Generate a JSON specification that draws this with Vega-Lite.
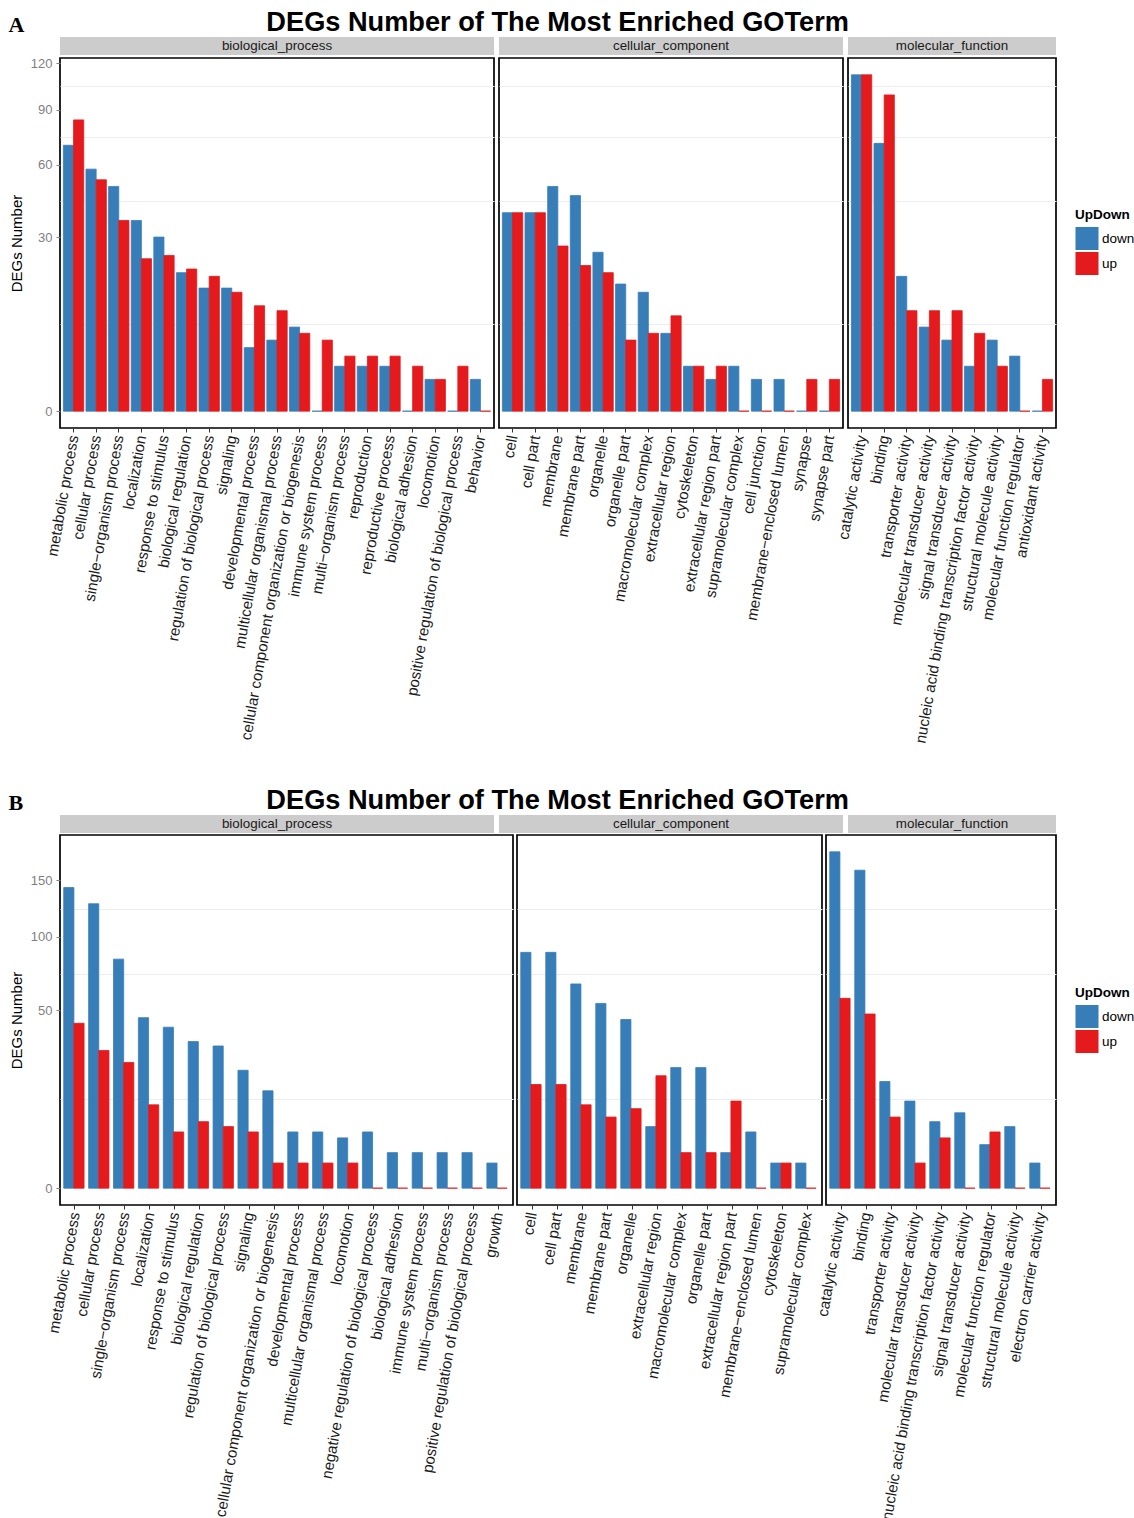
{
  "$schema": "https://vega.github.io/schema/vega-lite/v6.json",
  "background": "white",
  "padding": {"left": 8, "top": 8, "right": 0, "bottom": 0},
  "config": {
    "font": "Liberation Sans",
    "view": {"stroke": "#000000", "strokeWidth": 1.7},
    "axisX": {"labelAngle": -80, "labelAlign": "right", "labelBaseline": "middle", "labelFontSize": 15.2, "labelColor": "#1a1a1a", "labelLimit": 0, "labelOverlap": false, "labelPadding": 3, "tickColor": "#333333", "tickSize": 4, "domain": false, "grid": false, "title": null},
    "axisY": {"domain": false, "tickColor": "#7f7f7f", "tickSize": 4, "labelColor": "#7f7f7f", "labelFontSize": 13, "labelPadding": 4, "gridColor": "#EDEDED", "titleFontSize": 15, "titleFontWeight": "normal", "titleColor": "#000000", "titlePadding": 6},
    "legend": {"titleFontSize": 13.5, "titleFontWeight": "bold", "titleColor": "#000000", "labelFontSize": 13.5, "labelColor": "#000000", "symbolType": "square", "symbolSize": 530, "symbolStrokeWidth": 0, "rowPadding": 1, "labelOffset": 3}
  },
  "datasets": {
    "A": [
      {"panel": "biological_process", "term": "metabolic process", "UpDown": "down", "n": 70},
      {"panel": "biological_process", "term": "metabolic process", "UpDown": "up", "n": 84},
      {"panel": "biological_process", "term": "cellular process", "UpDown": "down", "n": 58},
      {"panel": "biological_process", "term": "cellular process", "UpDown": "up", "n": 53},
      {"panel": "biological_process", "term": "single−organism process", "UpDown": "down", "n": 50},
      {"panel": "biological_process", "term": "single−organism process", "UpDown": "up", "n": 36},
      {"panel": "biological_process", "term": "localization", "UpDown": "down", "n": 36},
      {"panel": "biological_process", "term": "localization", "UpDown": "up", "n": 23},
      {"panel": "biological_process", "term": "response to stimulus", "UpDown": "down", "n": 30},
      {"panel": "biological_process", "term": "response to stimulus", "UpDown": "up", "n": 24},
      {"panel": "biological_process", "term": "biological regulation", "UpDown": "down", "n": 19},
      {"panel": "biological_process", "term": "biological regulation", "UpDown": "up", "n": 20},
      {"panel": "biological_process", "term": "regulation of biological process", "UpDown": "down", "n": 15},
      {"panel": "biological_process", "term": "regulation of biological process", "UpDown": "up", "n": 18},
      {"panel": "biological_process", "term": "signaling", "UpDown": "down", "n": 15},
      {"panel": "biological_process", "term": "signaling", "UpDown": "up", "n": 14},
      {"panel": "biological_process", "term": "developmental process", "UpDown": "down", "n": 4},
      {"panel": "biological_process", "term": "developmental process", "UpDown": "up", "n": 11},
      {"panel": "biological_process", "term": "multicellular organismal process", "UpDown": "down", "n": 5},
      {"panel": "biological_process", "term": "multicellular organismal process", "UpDown": "up", "n": 10},
      {"panel": "biological_process", "term": "cellular component organization or biogenesis", "UpDown": "down", "n": 7},
      {"panel": "biological_process", "term": "cellular component organization or biogenesis", "UpDown": "up", "n": 6},
      {"panel": "biological_process", "term": "immune system process", "UpDown": "down", "n": 0},
      {"panel": "biological_process", "term": "immune system process", "UpDown": "up", "n": 5},
      {"panel": "biological_process", "term": "multi−organism process", "UpDown": "down", "n": 2},
      {"panel": "biological_process", "term": "multi−organism process", "UpDown": "up", "n": 3},
      {"panel": "biological_process", "term": "reproduction", "UpDown": "down", "n": 2},
      {"panel": "biological_process", "term": "reproduction", "UpDown": "up", "n": 3},
      {"panel": "biological_process", "term": "reproductive process", "UpDown": "down", "n": 2},
      {"panel": "biological_process", "term": "reproductive process", "UpDown": "up", "n": 3},
      {"panel": "biological_process", "term": "biological adhesion", "UpDown": "down", "n": 0},
      {"panel": "biological_process", "term": "biological adhesion", "UpDown": "up", "n": 2},
      {"panel": "biological_process", "term": "locomotion", "UpDown": "down", "n": 1},
      {"panel": "biological_process", "term": "locomotion", "UpDown": "up", "n": 1},
      {"panel": "biological_process", "term": "positive regulation of biological process", "UpDown": "down", "n": 0},
      {"panel": "biological_process", "term": "positive regulation of biological process", "UpDown": "up", "n": 2},
      {"panel": "biological_process", "term": "behavior", "UpDown": "down", "n": 1},
      {"panel": "biological_process", "term": "behavior", "UpDown": "up", "n": 0},
      {"panel": "cellular_component", "term": "cell", "UpDown": "down", "n": 39},
      {"panel": "cellular_component", "term": "cell", "UpDown": "up", "n": 39},
      {"panel": "cellular_component", "term": "cell part", "UpDown": "down", "n": 39},
      {"panel": "cellular_component", "term": "cell part", "UpDown": "up", "n": 39},
      {"panel": "cellular_component", "term": "membrane", "UpDown": "down", "n": 50},
      {"panel": "cellular_component", "term": "membrane", "UpDown": "up", "n": 27},
      {"panel": "cellular_component", "term": "membrane part", "UpDown": "down", "n": 46},
      {"panel": "cellular_component", "term": "membrane part", "UpDown": "up", "n": 21},
      {"panel": "cellular_component", "term": "organelle", "UpDown": "down", "n": 25},
      {"panel": "cellular_component", "term": "organelle", "UpDown": "up", "n": 19},
      {"panel": "cellular_component", "term": "organelle part", "UpDown": "down", "n": 16},
      {"panel": "cellular_component", "term": "organelle part", "UpDown": "up", "n": 5},
      {"panel": "cellular_component", "term": "macromolecular complex", "UpDown": "down", "n": 14},
      {"panel": "cellular_component", "term": "macromolecular complex", "UpDown": "up", "n": 6},
      {"panel": "cellular_component", "term": "extracellular region", "UpDown": "down", "n": 6},
      {"panel": "cellular_component", "term": "extracellular region", "UpDown": "up", "n": 9},
      {"panel": "cellular_component", "term": "cytoskeleton", "UpDown": "down", "n": 2},
      {"panel": "cellular_component", "term": "cytoskeleton", "UpDown": "up", "n": 2},
      {"panel": "cellular_component", "term": "extracellular region part", "UpDown": "down", "n": 1},
      {"panel": "cellular_component", "term": "extracellular region part", "UpDown": "up", "n": 2},
      {"panel": "cellular_component", "term": "supramolecular complex", "UpDown": "down", "n": 2},
      {"panel": "cellular_component", "term": "supramolecular complex", "UpDown": "up", "n": 0},
      {"panel": "cellular_component", "term": "cell junction", "UpDown": "down", "n": 1},
      {"panel": "cellular_component", "term": "cell junction", "UpDown": "up", "n": 0},
      {"panel": "cellular_component", "term": "membrane−enclosed lumen", "UpDown": "down", "n": 1},
      {"panel": "cellular_component", "term": "membrane−enclosed lumen", "UpDown": "up", "n": 0},
      {"panel": "cellular_component", "term": "synapse", "UpDown": "down", "n": 0},
      {"panel": "cellular_component", "term": "synapse", "UpDown": "up", "n": 1},
      {"panel": "cellular_component", "term": "synapse part", "UpDown": "down", "n": 0},
      {"panel": "cellular_component", "term": "synapse part", "UpDown": "up", "n": 1},
      {"panel": "molecular_function", "term": "catalytic activity", "UpDown": "down", "n": 112},
      {"panel": "molecular_function", "term": "catalytic activity", "UpDown": "up", "n": 112},
      {"panel": "molecular_function", "term": "binding", "UpDown": "down", "n": 71},
      {"panel": "molecular_function", "term": "binding", "UpDown": "up", "n": 99},
      {"panel": "molecular_function", "term": "transporter activity", "UpDown": "down", "n": 18},
      {"panel": "molecular_function", "term": "transporter activity", "UpDown": "up", "n": 10},
      {"panel": "molecular_function", "term": "molecular transducer activity", "UpDown": "down", "n": 7},
      {"panel": "molecular_function", "term": "molecular transducer activity", "UpDown": "up", "n": 10},
      {"panel": "molecular_function", "term": "signal transducer activity", "UpDown": "down", "n": 5},
      {"panel": "molecular_function", "term": "signal transducer activity", "UpDown": "up", "n": 10},
      {"panel": "molecular_function", "term": "nucleic acid binding transcription factor activity", "UpDown": "down", "n": 2},
      {"panel": "molecular_function", "term": "nucleic acid binding transcription factor activity", "UpDown": "up", "n": 6},
      {"panel": "molecular_function", "term": "structural molecule activity", "UpDown": "down", "n": 5},
      {"panel": "molecular_function", "term": "structural molecule activity", "UpDown": "up", "n": 2},
      {"panel": "molecular_function", "term": "molecular function regulator", "UpDown": "down", "n": 3},
      {"panel": "molecular_function", "term": "molecular function regulator", "UpDown": "up", "n": 0},
      {"panel": "molecular_function", "term": "antioxidant activity", "UpDown": "down", "n": 0},
      {"panel": "molecular_function", "term": "antioxidant activity", "UpDown": "up", "n": 1}
    ],
    "B": [
      {"panel": "biological_process", "term": "metabolic process", "UpDown": "down", "n": 143},
      {"panel": "biological_process", "term": "metabolic process", "UpDown": "up", "n": 43},
      {"panel": "biological_process", "term": "cellular process", "UpDown": "down", "n": 128},
      {"panel": "biological_process", "term": "cellular process", "UpDown": "up", "n": 30},
      {"panel": "biological_process", "term": "single−organism process", "UpDown": "down", "n": 83},
      {"panel": "biological_process", "term": "single−organism process", "UpDown": "up", "n": 25},
      {"panel": "biological_process", "term": "localization", "UpDown": "down", "n": 46},
      {"panel": "biological_process", "term": "localization", "UpDown": "up", "n": 11},
      {"panel": "biological_process", "term": "response to stimulus", "UpDown": "down", "n": 41},
      {"panel": "biological_process", "term": "response to stimulus", "UpDown": "up", "n": 5},
      {"panel": "biological_process", "term": "biological regulation", "UpDown": "down", "n": 34},
      {"panel": "biological_process", "term": "biological regulation", "UpDown": "up", "n": 7},
      {"panel": "biological_process", "term": "regulation of biological process", "UpDown": "down", "n": 32},
      {"panel": "biological_process", "term": "regulation of biological process", "UpDown": "up", "n": 6},
      {"panel": "biological_process", "term": "signaling", "UpDown": "down", "n": 22},
      {"panel": "biological_process", "term": "signaling", "UpDown": "up", "n": 5},
      {"panel": "biological_process", "term": "cellular component organization or biogenesis", "UpDown": "down", "n": 15},
      {"panel": "biological_process", "term": "cellular component organization or biogenesis", "UpDown": "up", "n": 1},
      {"panel": "biological_process", "term": "developmental process", "UpDown": "down", "n": 5},
      {"panel": "biological_process", "term": "developmental process", "UpDown": "up", "n": 1},
      {"panel": "biological_process", "term": "multicellular organismal process", "UpDown": "down", "n": 5},
      {"panel": "biological_process", "term": "multicellular organismal process", "UpDown": "up", "n": 1},
      {"panel": "biological_process", "term": "locomotion", "UpDown": "down", "n": 4},
      {"panel": "biological_process", "term": "locomotion", "UpDown": "up", "n": 1},
      {"panel": "biological_process", "term": "negative regulation of biological process", "UpDown": "down", "n": 5},
      {"panel": "biological_process", "term": "negative regulation of biological process", "UpDown": "up", "n": 0},
      {"panel": "biological_process", "term": "biological adhesion", "UpDown": "down", "n": 2},
      {"panel": "biological_process", "term": "biological adhesion", "UpDown": "up", "n": 0},
      {"panel": "biological_process", "term": "immune system process", "UpDown": "down", "n": 2},
      {"panel": "biological_process", "term": "immune system process", "UpDown": "up", "n": 0},
      {"panel": "biological_process", "term": "multi−organism process", "UpDown": "down", "n": 2},
      {"panel": "biological_process", "term": "multi−organism process", "UpDown": "up", "n": 0},
      {"panel": "biological_process", "term": "positive regulation of biological process", "UpDown": "down", "n": 2},
      {"panel": "biological_process", "term": "positive regulation of biological process", "UpDown": "up", "n": 0},
      {"panel": "biological_process", "term": "growth", "UpDown": "down", "n": 1},
      {"panel": "biological_process", "term": "growth", "UpDown": "up", "n": 0},
      {"panel": "cellular_component", "term": "cell", "UpDown": "down", "n": 88},
      {"panel": "cellular_component", "term": "cell", "UpDown": "up", "n": 17},
      {"panel": "cellular_component", "term": "cell part", "UpDown": "down", "n": 88},
      {"panel": "cellular_component", "term": "cell part", "UpDown": "up", "n": 17},
      {"panel": "cellular_component", "term": "membrane", "UpDown": "down", "n": 66},
      {"panel": "cellular_component", "term": "membrane", "UpDown": "up", "n": 11},
      {"panel": "cellular_component", "term": "membrane part", "UpDown": "down", "n": 54},
      {"panel": "cellular_component", "term": "membrane part", "UpDown": "up", "n": 8},
      {"panel": "cellular_component", "term": "organelle", "UpDown": "down", "n": 45},
      {"panel": "cellular_component", "term": "organelle", "UpDown": "up", "n": 10},
      {"panel": "cellular_component", "term": "extracellular region", "UpDown": "down", "n": 6},
      {"panel": "cellular_component", "term": "extracellular region", "UpDown": "up", "n": 20},
      {"panel": "cellular_component", "term": "macromolecular complex", "UpDown": "down", "n": 23},
      {"panel": "cellular_component", "term": "macromolecular complex", "UpDown": "up", "n": 2},
      {"panel": "cellular_component", "term": "organelle part", "UpDown": "down", "n": 23},
      {"panel": "cellular_component", "term": "organelle part", "UpDown": "up", "n": 2},
      {"panel": "cellular_component", "term": "extracellular region part", "UpDown": "down", "n": 2},
      {"panel": "cellular_component", "term": "extracellular region part", "UpDown": "up", "n": 12},
      {"panel": "cellular_component", "term": "membrane−enclosed lumen", "UpDown": "down", "n": 5},
      {"panel": "cellular_component", "term": "membrane−enclosed lumen", "UpDown": "up", "n": 0},
      {"panel": "cellular_component", "term": "cytoskeleton", "UpDown": "down", "n": 1},
      {"panel": "cellular_component", "term": "cytoskeleton", "UpDown": "up", "n": 1},
      {"panel": "cellular_component", "term": "supramolecular complex", "UpDown": "down", "n": 1},
      {"panel": "cellular_component", "term": "supramolecular complex", "UpDown": "up", "n": 0},
      {"panel": "molecular_function", "term": "catalytic activity", "UpDown": "down", "n": 179},
      {"panel": "molecular_function", "term": "catalytic activity", "UpDown": "up", "n": 57},
      {"panel": "molecular_function", "term": "binding", "UpDown": "down", "n": 160},
      {"panel": "molecular_function", "term": "binding", "UpDown": "up", "n": 48},
      {"panel": "molecular_function", "term": "transporter activity", "UpDown": "down", "n": 18},
      {"panel": "molecular_function", "term": "transporter activity", "UpDown": "up", "n": 8},
      {"panel": "molecular_function", "term": "molecular transducer activity", "UpDown": "down", "n": 12},
      {"panel": "molecular_function", "term": "molecular transducer activity", "UpDown": "up", "n": 1},
      {"panel": "molecular_function", "term": "nucleic acid binding transcription factor activity", "UpDown": "down", "n": 7},
      {"panel": "molecular_function", "term": "nucleic acid binding transcription factor activity", "UpDown": "up", "n": 4},
      {"panel": "molecular_function", "term": "signal transducer activity", "UpDown": "down", "n": 9},
      {"panel": "molecular_function", "term": "signal transducer activity", "UpDown": "up", "n": 0},
      {"panel": "molecular_function", "term": "molecular function regulator", "UpDown": "down", "n": 3},
      {"panel": "molecular_function", "term": "molecular function regulator", "UpDown": "up", "n": 5},
      {"panel": "molecular_function", "term": "structural molecule activity", "UpDown": "down", "n": 6},
      {"panel": "molecular_function", "term": "structural molecule activity", "UpDown": "up", "n": 0},
      {"panel": "molecular_function", "term": "electron carrier activity", "UpDown": "down", "n": 1},
      {"panel": "molecular_function", "term": "electron carrier activity", "UpDown": "up", "n": 0}
    ]
  },
  "resolve": {"scale": {"color": "independent", "stroke": "independent"}, "legend": {"color": "independent"}},
  "spacing": 41,
  "vconcat": [
    {
      "title": {"text": "A", "anchor": "start", "frame": "bounds", "font": "Liberation Serif", "fontSize": 22, "fontWeight": "bold", "color": "#000000", "offset": -28},
      "vconcat": [
        {
          "title": {"text": "DEGs Number of The Most Enriched GOTerm", "font": "Liberation Sans", "fontSize": 27.2, "fontWeight": "bold", "color": "#000000", "anchor": "middle", "frame": "bounds", "dx": 25, "offset": 0},
          "spacing": 1,
          "vconcat": [
            {
              "bounds": "flush", "spacing": 5,
              "hconcat": [
                {"width": 434, "height": 18, "view": {"fill": "#CCCCCC", "stroke": null}, "data": {"values": [{"t": "biological_process"}]}, "mark": {"type": "text", "fontSize": 13.4, "color": "#1a1a1a"},
                  "encoding": {"text": {"field": "t", "type": "nominal"},
                    "y": {"datum": 0.5, "type": "quantitative", "scale": {"domain": [0, 1]}, "axis": {"values": [0.5], "labelExpr": "'120'", "labelColor": "transparent", "tickColor": "transparent", "title": "D", "titleColor": "transparent", "grid": false}}}},
                {"width": 344, "height": 18, "view": {"fill": "#CCCCCC", "stroke": null}, "data": {"values": [{"t": "cellular_component"}]}, "mark": {"type": "text", "fontSize": 13.4, "color": "#1a1a1a"}, "encoding": {"text": {"field": "t", "type": "nominal"}}},
                {"width": 208, "height": 18, "view": {"fill": "#CCCCCC", "stroke": null}, "data": {"values": [{"t": "molecular_function"}]}, "mark": {"type": "text", "fontSize": 13.4, "color": "#1a1a1a"}, "encoding": {"text": {"field": "t", "type": "nominal"}}}
              ]
            },
            {
              "bounds": "flush", "spacing": 5,
              "hconcat": [
                {
                  "width": 434, "height": 370,
                  "data": {"name": "A"},
                  "transform": [{"filter": "datum.panel == 'biological_process'"}],
                  "mark": {"type": "bar", "strokeWidth": 0.8},
                  "encoding": {
                    "x": {"field": "term", "type": "nominal", "sort": null, "scale": {"paddingInner": 0.1, "paddingOuter": 0.15}},
                    "xOffset": {"field": "UpDown", "type": "nominal", "scale": {"domain": ["down", "up"], "paddingInner": 0, "paddingOuter": 0}},
                    "y": {"field": "n", "type": "quantitative", "scale": {"type": "sqrt", "domain": [-0.28, 123.48], "nice": false, "zero": false},
                      "axis": {"title": "DEGs Number", "values": [0, 7.5, 30, 43.71, 60, 74.24, 90, 104.46, 120], "labelExpr": "indexof([0,30,60,90,120], datum.value) >= 0 ? datum.label : ''", "tickOpacity": {"condition": {"test": "indexof([0,30,60,90,120], datum.value) >= 0", "value": 1}, "value": 0}, "gridOpacity": {"condition": {"test": "indexof([0,30,60,90,120], datum.value) >= 0", "value": 0}, "value": 1}}},
                    "y2": {"datum": 0},
                    "color": {"field": "UpDown", "type": "nominal", "scale": {"domain": ["down", "up"], "range": ["#377EB8", "#E41A1C"]}, "legend": {"title": "UpDown", "orient": "none", "legendX": 1015, "legendY": 171}},
                    "stroke": {"field": "UpDown", "type": "nominal", "scale": {"domain": ["down", "up"], "range": ["#377EB8", "#E41A1C"]}, "legend": null}
                  }
                },
                {
                  "width": 344, "height": 370,
                  "data": {"name": "A"},
                  "transform": [{"filter": "datum.panel == 'cellular_component'"}],
                  "mark": {"type": "bar", "strokeWidth": 0.8},
                  "encoding": {
                    "x": {"field": "term", "type": "nominal", "sort": null, "scale": {"paddingInner": 0.1, "paddingOuter": 0.15}},
                    "xOffset": {"field": "UpDown", "type": "nominal", "scale": {"domain": ["down", "up"], "paddingInner": 0, "paddingOuter": 0}},
                    "y": {"field": "n", "type": "quantitative", "scale": {"type": "sqrt", "domain": [-0.28, 123.48], "nice": false, "zero": false},
                      "axis": {"title": null, "labels": false, "ticks": false, "values": [0, 7.5, 30, 43.71, 60, 74.24, 90, 104.46, 120], "gridOpacity": {"condition": {"test": "indexof([0,30,60,90,120], datum.value) >= 0", "value": 0}, "value": 1}}},
                    "y2": {"datum": 0},
                    "color": {"field": "UpDown", "type": "nominal", "scale": {"domain": ["down", "up"], "range": ["#377EB8", "#E41A1C"]}, "legend": {"title": "UpDown", "orient": "none", "legendX": 1015, "legendY": 171}},
                    "stroke": {"field": "UpDown", "type": "nominal", "scale": {"domain": ["down", "up"], "range": ["#377EB8", "#E41A1C"]}, "legend": null}
                  }
                },
                {
                  "width": 208, "height": 370,
                  "data": {"name": "A"},
                  "transform": [{"filter": "datum.panel == 'molecular_function'"}],
                  "mark": {"type": "bar", "strokeWidth": 0.8},
                  "encoding": {
                    "x": {"field": "term", "type": "nominal", "sort": null, "scale": {"paddingInner": 0.1, "paddingOuter": 0.15}},
                    "xOffset": {"field": "UpDown", "type": "nominal", "scale": {"domain": ["down", "up"], "paddingInner": 0, "paddingOuter": 0}},
                    "y": {"field": "n", "type": "quantitative", "scale": {"type": "sqrt", "domain": [-0.28, 123.48], "nice": false, "zero": false},
                      "axis": {"title": null, "labels": false, "ticks": false, "values": [0, 7.5, 30, 43.71, 60, 74.24, 90, 104.46, 120], "gridOpacity": {"condition": {"test": "indexof([0,30,60,90,120], datum.value) >= 0", "value": 0}, "value": 1}}},
                    "y2": {"datum": 0},
                    "color": {"field": "UpDown", "type": "nominal", "scale": {"domain": ["down", "up"], "range": ["#377EB8", "#E41A1C"]}, "legend": {"title": "UpDown", "orient": "none", "legendX": 1015, "legendY": 171}},
                    "stroke": {"field": "UpDown", "type": "nominal", "scale": {"domain": ["down", "up"], "range": ["#377EB8", "#E41A1C"]}, "legend": null}
                  }
                }
              ]
            }
          ]
        }
      ]
    },
    {
      "title": {"text": "B", "anchor": "start", "frame": "bounds", "font": "Liberation Serif", "fontSize": 22, "fontWeight": "bold", "color": "#000000", "offset": -28},
      "vconcat": [
        {
          "title": {"text": "DEGs Number of The Most Enriched GOTerm", "font": "Liberation Sans", "fontSize": 27.2, "fontWeight": "bold", "color": "#000000", "anchor": "middle", "frame": "bounds", "dx": 25, "offset": 0},
          "spacing": 1,
          "vconcat": [
            {
              "bounds": "flush", "spacing": 5,
              "hconcat": [
                {"width": 434, "height": 18, "view": {"fill": "#CCCCCC", "stroke": null}, "data": {"values": [{"t": "biological_process"}]}, "mark": {"type": "text", "fontSize": 13.4, "color": "#1a1a1a"},
                  "encoding": {"text": {"field": "t", "type": "nominal"},
                    "y": {"datum": 0.5, "type": "quantitative", "scale": {"domain": [0, 1]}, "axis": {"values": [0.5], "labelExpr": "'150'", "labelColor": "transparent", "tickColor": "transparent", "title": "D", "titleColor": "transparent", "grid": false}}}},
                {"width": 344, "height": 18, "view": {"fill": "#CCCCCC", "stroke": null}, "data": {"values": [{"t": "cellular_component"}]}, "mark": {"type": "text", "fontSize": 13.4, "color": "#1a1a1a"}, "encoding": {"text": {"field": "t", "type": "nominal"}}},
                {"width": 208, "height": 18, "view": {"fill": "#CCCCCC", "stroke": null}, "data": {"values": [{"t": "molecular_function"}]}, "mark": {"type": "text", "fontSize": 13.4, "color": "#1a1a1a"}, "encoding": {"text": {"field": "t", "type": "nominal"}}}
              ]
            },
            {
              "bounds": "flush", "spacing": 4,
              "hconcat": [
                {
                  "width": 453, "height": 370,
                  "data": {"name": "B"},
                  "transform": [{"filter": "datum.panel == 'biological_process'"}],
                  "mark": {"type": "bar", "strokeWidth": 0.8},
                  "encoding": {
                    "x": {"field": "term", "type": "nominal", "sort": null, "scale": {"paddingInner": 0.1, "paddingOuter": 0.15}},
                    "xOffset": {"field": "UpDown", "type": "nominal", "scale": {"domain": ["down", "up"], "paddingInner": 0, "paddingOuter": 0}},
                    "y": {"field": "n", "type": "quantitative", "scale": {"type": "sqrt", "domain": [-0.4476, 197.35], "nice": false, "zero": false},
                      "axis": {"title": "DEGs Number", "values": [0, 12.5, 50, 72.86, 100, 123.74, 150], "labelExpr": "indexof([0,50,100,150], datum.value) >= 0 ? datum.label : ''", "tickOpacity": {"condition": {"test": "indexof([0,50,100,150], datum.value) >= 0", "value": 1}, "value": 0}, "gridOpacity": {"condition": {"test": "indexof([0,50,100,150], datum.value) >= 0", "value": 0}, "value": 1}}},
                    "y2": {"datum": 0},
                    "color": {"field": "UpDown", "type": "nominal", "scale": {"domain": ["down", "up"], "range": ["#377EB8", "#E41A1C"]}, "legend": {"title": "UpDown", "orient": "none", "legendX": 1015, "legendY": 171}},
                    "stroke": {"field": "UpDown", "type": "nominal", "scale": {"domain": ["down", "up"], "range": ["#377EB8", "#E41A1C"]}, "legend": null}
                  }
                },
                {
                  "width": 305, "height": 370,
                  "data": {"name": "B"},
                  "transform": [{"filter": "datum.panel == 'cellular_component'"}],
                  "mark": {"type": "bar", "strokeWidth": 0.8},
                  "encoding": {
                    "x": {"field": "term", "type": "nominal", "sort": null, "scale": {"paddingInner": 0.1, "paddingOuter": 0.15}},
                    "xOffset": {"field": "UpDown", "type": "nominal", "scale": {"domain": ["down", "up"], "paddingInner": 0, "paddingOuter": 0}},
                    "y": {"field": "n", "type": "quantitative", "scale": {"type": "sqrt", "domain": [-0.4476, 197.35], "nice": false, "zero": false},
                      "axis": {"title": null, "labels": false, "ticks": false, "values": [0, 12.5, 50, 72.86, 100, 123.74, 150], "gridOpacity": {"condition": {"test": "indexof([0,50,100,150], datum.value) >= 0", "value": 0}, "value": 1}}},
                    "y2": {"datum": 0},
                    "color": {"field": "UpDown", "type": "nominal", "scale": {"domain": ["down", "up"], "range": ["#377EB8", "#E41A1C"]}, "legend": {"title": "UpDown", "orient": "none", "legendX": 1015, "legendY": 171}},
                    "stroke": {"field": "UpDown", "type": "nominal", "scale": {"domain": ["down", "up"], "range": ["#377EB8", "#E41A1C"]}, "legend": null}
                  }
                },
                {
                  "width": 230, "height": 370,
                  "data": {"name": "B"},
                  "transform": [{"filter": "datum.panel == 'molecular_function'"}],
                  "mark": {"type": "bar", "strokeWidth": 0.8},
                  "encoding": {
                    "x": {"field": "term", "type": "nominal", "sort": null, "scale": {"paddingInner": 0.1, "paddingOuter": 0.15}},
                    "xOffset": {"field": "UpDown", "type": "nominal", "scale": {"domain": ["down", "up"], "paddingInner": 0, "paddingOuter": 0}},
                    "y": {"field": "n", "type": "quantitative", "scale": {"type": "sqrt", "domain": [-0.4476, 197.35], "nice": false, "zero": false},
                      "axis": {"title": null, "labels": false, "ticks": false, "values": [0, 12.5, 50, 72.86, 100, 123.74, 150], "gridOpacity": {"condition": {"test": "indexof([0,50,100,150], datum.value) >= 0", "value": 0}, "value": 1}}},
                    "y2": {"datum": 0},
                    "color": {"field": "UpDown", "type": "nominal", "scale": {"domain": ["down", "up"], "range": ["#377EB8", "#E41A1C"]}, "legend": {"title": "UpDown", "orient": "none", "legendX": 1015, "legendY": 171}},
                    "stroke": {"field": "UpDown", "type": "nominal", "scale": {"domain": ["down", "up"], "range": ["#377EB8", "#E41A1C"]}, "legend": null}
                  }
                }
              ]
            }
          ]
        }
      ]
    }
  ]
}
